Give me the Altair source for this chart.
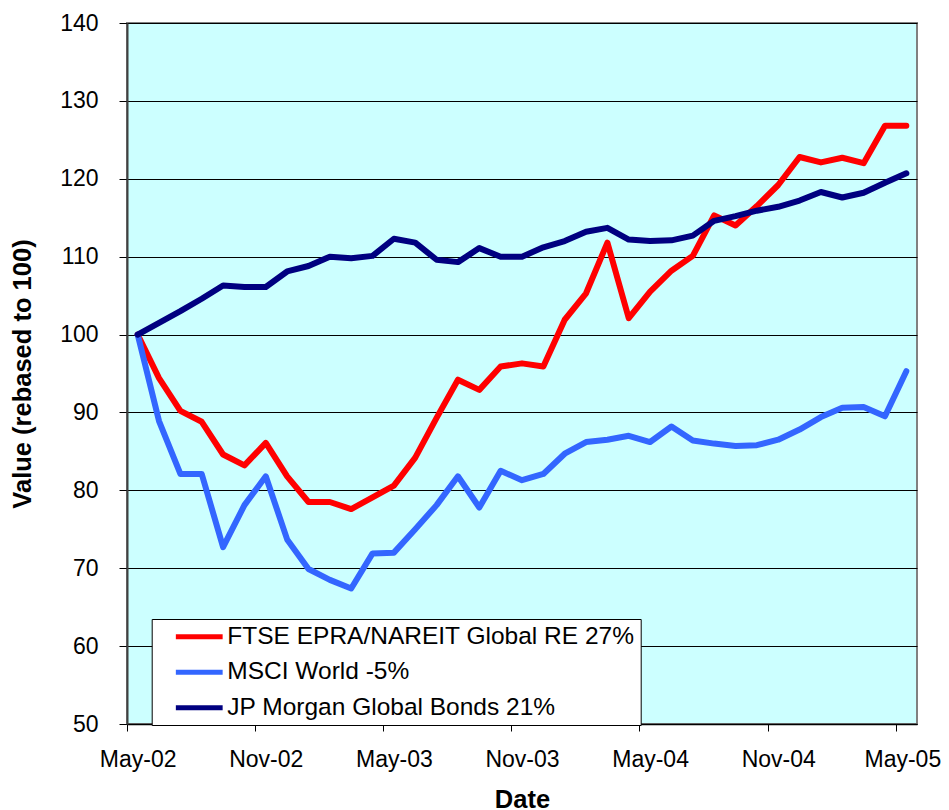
import altair as alt
import pandas as pd

months = [
    "May-02", "Jun-02", "Jul-02", "Aug-02", "Sep-02", "Oct-02", "Nov-02", "Dec-02",
    "Jan-03", "Feb-03", "Mar-03", "Apr-03", "May-03", "Jun-03", "Jul-03", "Aug-03",
    "Sep-03", "Oct-03", "Nov-03", "Dec-03", "Jan-04", "Feb-04", "Mar-04", "Apr-04",
    "May-04", "Jun-04", "Jul-04", "Aug-04", "Sep-04", "Oct-04", "Nov-04", "Dec-04",
    "Jan-05", "Feb-05", "Mar-05", "Apr-05", "May-05",
]
tick_labels = ["May-02", "Nov-02", "May-03", "Nov-03", "May-04", "Nov-04", "May-05"]

series_names = [
    "FTSE EPRA/NAREIT Global RE 27%",
    "MSCI World -5%",
    "JP Morgan Global Bonds 21%",
]
ftse = [100, 94.4, 90.2, 88.8, 84.6, 83.2, 86.1, 81.8, 78.5, 78.5,
        77.6, 79.1, 80.6, 84.2, 89.3, 94.2, 92.9, 95.9, 96.3, 95.9,
        101.9, 105.3, 111.8, 102.1, 105.5, 108.2, 110.1, 115.3, 114.0, 116.5,
        119.2, 122.8, 122.1, 122.7, 122.0, 126.8, 126.8]
msci = [100, 88.9, 82.1, 82.1, 72.7, 78.1, 81.8, 73.7, 69.9, 68.5,
        67.4, 71.9, 72.0, 75.0, 78.1, 81.8, 77.8, 82.5, 81.3, 82.1,
        84.7, 86.2, 86.5, 87.0, 86.2, 88.2, 86.4, 86.0, 85.7, 85.8,
        86.5, 87.8, 89.4, 90.6, 90.7, 89.5, 95.3]
jpm = [100, 101.5, 103.0, 104.6, 106.3, 106.1, 106.1, 108.1, 108.8, 110.0,
       109.8, 110.1, 112.3, 111.8, 109.6, 109.3, 111.1, 110.0, 110.0, 111.2,
       112.0, 113.2, 113.7, 112.2, 112.0, 112.1, 112.7, 114.6, 115.2, 115.9,
       116.4, 117.2, 118.3, 117.6, 118.2, 119.5, 120.7]
colors = ["#FF0000", "#3366FF", "#000080"]
y_ticks = [50, 60, 70, 80, 90, 100, 110, 120, 130, 140]

rows = []
for name, vals in zip(series_names, [ftse, msci, jpm]):
    for m, v in zip(months, vals):
        rows.append({"Date": m, "Series": name, "Value": v})
df = pd.DataFrame(rows)

W, H = 790, 701
step = W / len(months)
FONT = "Liberation Sans, Arial, sans-serif"

chart = (
    alt.Chart(df)
    .mark_line(strokeWidth=6, strokeJoin="round", strokeCap="round")
    .encode(
        x=alt.X(
            "Date:O",
            sort=months,
            scale=alt.Scale(type="point", padding=0.5),
            axis=alt.Axis(
                title="Date",
                values=tick_labels,
                labelAngle=0,
                tickOffset=-step / 2,
                labelOffset={
                    "condition": {
                        "test": "datum.value === 'May-05'",
                        "value": step / 2 - 4,
                    },
                    "value": step / 2,
                },
                tickSize=7,
                labelPadding=17,
                titlePadding=16,
                grid=False,
                domainColor="#000000",
                domainWidth=1.5,
            ),
        ),
        y=alt.Y(
            "Value:Q",
            scale=alt.Scale(domain=[50, 140], nice=False, zero=False),
            axis=alt.Axis(
                title="Value (rebased to 100)",
                values=y_ticks,
                tickSize=8,
                labelPadding=21,
                titlePadding=24,
                grid=True,
                gridColor="#000000",
                gridWidth=1,
                domainColor="#404040",
                domainWidth=2,
            ),
        ),
        color=alt.Color(
            "Series:N",
            sort=series_names,
            scale=alt.Scale(domain=series_names, range=colors),
            legend=alt.Legend(
                title=None,
                orient="none",
                legendX=24.7,
                legendY=596,
                direction="vertical",
                fillColor="white",
                strokeColor="black",
                padding=5.5,
                symbolType="M-2.6,0H2.6",
                symbolSize=324,
                symbolStrokeWidth=5,
                symbolOffset=29.8,
                labelOffset=15.8,
                labelFontSize=24.5,
                labelFont=FONT,
                labelColor="black",
                labelLimit=0,
                rowPadding=10.5,
                labelExpr="datum.label + '\u2002\u2002'",
            ),
        ),
    )
    .properties(
        width=W,
        height=H,
        autosize=alt.AutoSizeParams(type="none"),
        padding={"left": 119, "top": 15, "right": 24, "bottom": 86},
    )
    .configure_view(fill="#CCFFFF", stroke="#808080", strokeWidth=2)
    .configure_axis(
        labelFont=FONT,
        labelFontSize=23,
        labelColor="black",
        titleFont=FONT,
        titleFontSize=25.5,
        titleFontWeight="bold",
        titleColor="black",
        tickColor="#000000",
        tickWidth=1,
    )
)

chart.save("out.html", embed_options={"renderer": "svg", "actions": False})
